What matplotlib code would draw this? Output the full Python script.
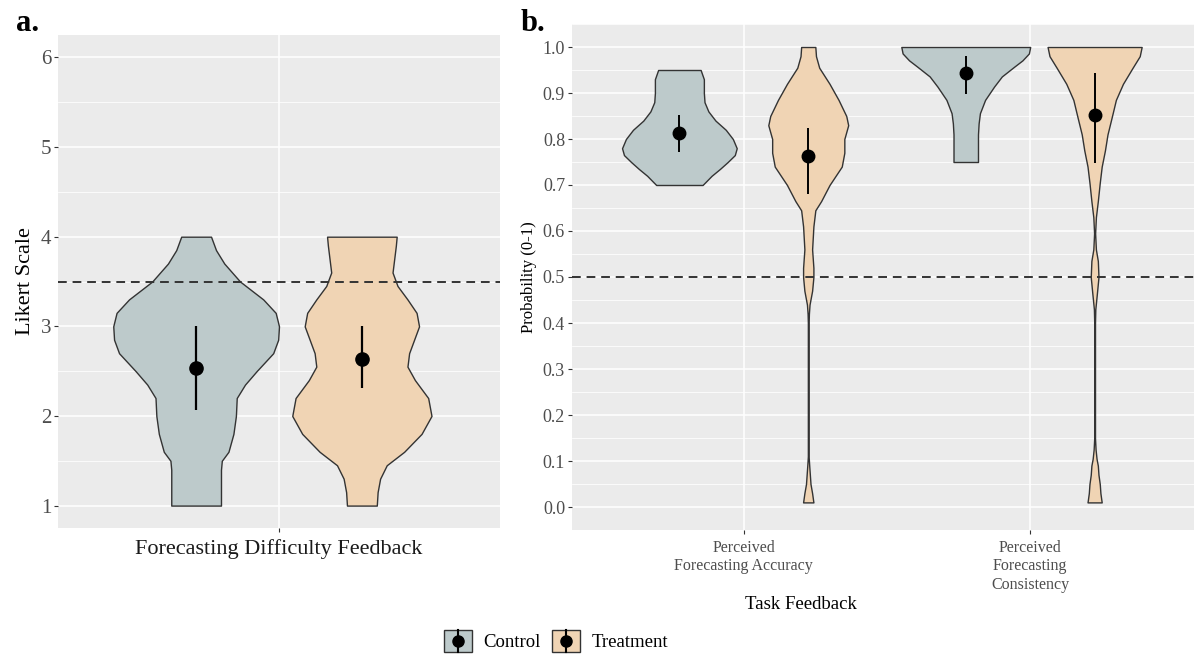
import numpy as np
import matplotlib
matplotlib.use("Agg")
import matplotlib.pyplot as plt
from matplotlib.patches import Patch, Rectangle
from matplotlib.lines import Line2D
from matplotlib.legend_handler import HandlerBase
from matplotlib.ticker import MultipleLocator, FormatStrFormatter

plt.rcParams['font.family'] = ['Liberation Serif', 'DejaVu Serif']

# ---- data ----
groups = ["Control", "Treatment"]
colors = {"Control": "#BDCACB", "Treatment": "#F0D4B4"}

# panel a: Likert responses (density profiles, relative to widest violin)
a_category = "Forecasting Difficulty Feedback"
a_ctrl_y = [1.0, 1.2, 1.4, 1.5, 1.6, 1.8, 2.0, 2.2, 2.35, 2.5, 2.7, 2.85, 3.0, 3.15, 3.3, 3.5, 3.7, 3.85, 4.0]
a_ctrl_d = [0.30, 0.30, 0.30, 0.31, 0.39, 0.45, 0.48, 0.49, 0.59, 0.73, 0.93, 0.99, 1.00, 0.96, 0.81, 0.53, 0.34, 0.24, 0.18]
a_trt_y = [1.0, 1.15, 1.3, 1.45, 1.6, 1.8, 2.0, 2.2, 2.4, 2.55, 2.7, 2.85, 3.0, 3.15, 3.3, 3.45, 3.6, 3.75, 3.9, 4.0]
a_trt_d = [0.18, 0.19, 0.22, 0.30, 0.51, 0.72, 0.84, 0.80, 0.64, 0.55, 0.57, 0.63, 0.69, 0.66, 0.55, 0.43, 0.37, 0.39, 0.41, 0.42]
a_mean = [2.53, 2.64]
a_lo = [2.07, 2.31]
a_hi = [3.00, 3.00]
a_ref = 3.5

# panel b: probabilities
b_categories = ["Perceived\nForecasting Accuracy", "Perceived\nForecasting\nConsistency"]
acc_ctrl_y = [0.70, 0.72, 0.735, 0.75, 0.765, 0.78, 0.80, 0.82, 0.84, 0.86, 0.88, 0.90, 0.93, 0.95]
acc_ctrl_d = [0.36, 0.50, 0.63, 0.75, 0.86, 0.89, 0.83, 0.72, 0.56, 0.45, 0.39, 0.38, 0.38, 0.33]
acc_trt_y = [0.01, 0.03, 0.05, 0.07, 0.09, 0.11, 0.40, 0.42, 0.44, 0.47, 0.50, 0.52, 0.56, 0.61,
             0.645, 0.665, 0.70, 0.74, 0.77, 0.80, 0.83, 0.85, 0.885, 0.92, 0.955, 0.98, 1.0]
acc_trt_d = [0.08, 0.06, 0.035, 0.025, 0.015, 0.006, 0.006, 0.01, 0.02, 0.06, 0.08, 0.08, 0.06, 0.08,
             0.11, 0.20, 0.33, 0.52, 0.56, 0.56, 0.62, 0.59, 0.47, 0.33, 0.17, 0.12, 0.11]
con_ctrl_y = [0.75, 0.78, 0.81, 0.834, 0.856, 0.885, 0.914, 0.936, 0.957, 0.971, 0.986, 1.0]
con_ctrl_d = [0.19, 0.19, 0.19, 0.20, 0.22, 0.30, 0.44, 0.56, 0.75, 0.88, 0.98, 1.0]
con_trt_y = [0.01, 0.03, 0.05, 0.07, 0.09, 0.105, 0.125, 0.15, 0.40, 0.43, 0.465, 0.50, 0.535, 0.56,
             0.595, 0.63, 0.665, 0.705, 0.74, 0.775, 0.81, 0.85, 0.885, 0.92, 0.955, 0.98, 1.0]
con_trt_d = [0.11, 0.09, 0.08, 0.06, 0.05, 0.03, 0.015, 0.006, 0.006, 0.011, 0.036, 0.06, 0.05, 0.02,
             0.008, 0.02, 0.05, 0.08, 0.11, 0.16, 0.20, 0.27, 0.33, 0.44, 0.59, 0.70, 0.73]
b_mean = [[0.812, 0.763], [0.944, 0.852]]
b_lo = [[0.772, 0.680], [0.897, 0.747]]
b_hi = [[0.852, 0.825], [0.980, 0.943]]
b_ref = 0.5

# ---- drawing ----
W, H = 1194, 659
fig = plt.figure(figsize=(W / 100, H / 100), dpi=100)
ax_a = fig.add_axes([58 / W, 1 - 528 / H, 442 / W, 493 / H])
ax_b = fig.add_axes([572 / W, 1 - 530 / H, 630 / W, 506 / H])

dodge = 0.225
halfw = 0.225
edge = "#333333"


def violin(ax, x, y, d, color):
    y = np.asarray(y)
    d = np.asarray(d) * halfw
    ax.fill_betweenx(y, x - d, x + d, facecolor=color, edgecolor=edge, lw=1.0,
                     joinstyle="round", zorder=2)


def pointrange(ax, x, m, lo, hi, ms, lw):
    ax.plot([x, x], [lo, hi], color="black", lw=lw, zorder=3, solid_capstyle="butt")
    ax.plot([x], [m], "o", color="black", ms=ms, zorder=4)


def style(ax, major, minor, fs):
    ax.set_facecolor("#EBEBEB")
    for s in ax.spines.values():
        s.set_visible(False)
    ax.yaxis.set_major_locator(MultipleLocator(major))
    ax.yaxis.set_minor_locator(MultipleLocator(minor))
    ax.grid(which="major", color="white", lw=1.1)
    ax.grid(which="minor", axis="y", color="white", lw=0.55)
    ax.set_axisbelow(True)
    ax.tick_params(which="major", length=3, width=0.8, color="#333333", labelcolor="#4D4D4D",
                   labelsize=fs, pad=2)
    ax.tick_params(which="minor", length=0)


# panel a
style(ax_a, 1, 0.5, 15)
violin(ax_a, 1 - dodge, a_ctrl_y, a_ctrl_d, colors["Control"])
violin(ax_a, 1 + dodge, a_trt_y, a_trt_d, colors["Treatment"])
for i, off in enumerate([-dodge, dodge]):
    pointrange(ax_a, 1 + off, a_mean[i], a_lo[i], a_hi[i], ms=9.5, lw=1.6)
ax_a.axhline(a_ref, color="#333333", lw=1.4, dashes=(4.5, 3), zorder=5)
ax_a.set_xlim(0.4, 1.6)
ax_a.set_ylim(0.75, 6.25)
ax_a.set_xticks([1])
ax_a.set_xticklabels([a_category], fontsize=16, color="#1A1A1A")
ax_a.tick_params(axis="x", pad=5)
ax_a.set_ylabel("Likert Scale", fontsize=16, labelpad=4)

# panel b
style(ax_b, 0.1, 0.05, 13)
ax_b.yaxis.set_major_formatter(FormatStrFormatter("%.1f"))
b_shapes = [[(acc_ctrl_y, acc_ctrl_d), (acc_trt_y, acc_trt_d)],
            [(con_ctrl_y, con_ctrl_d), (con_trt_y, con_trt_d)]]
for c in range(2):
    for g, off in enumerate([-dodge, dodge]):
        yy, dd = b_shapes[c][g]
        violin(ax_b, c + 1 + off, yy, dd, colors[groups[g]])
        pointrange(ax_b, c + 1 + off, b_mean[c][g], b_lo[c][g], b_hi[c][g], ms=9, lw=1.4)
ax_b.axhline(b_ref, color="#333333", lw=1.4, dashes=(4.5, 3), zorder=5)
ax_b.set_xlim(0.4, 2.6)
ax_b.set_ylim(-0.05, 1.05)
ax_b.set_xticks([1, 2])
ax_b.set_xticklabels(b_categories, fontsize=11.5, linespacing=1.2)
ax_b.tick_params(axis="x", pad=4)
ax_b.set_ylabel("Probability (0-1)", fontsize=12, labelpad=4)
ax_b.set_xlabel("Task Feedback", fontsize=13.5, labelpad=1)
ax_b.xaxis.set_label_coords((801 - 572) / 630, -0.13)

fig.text(16 / W, 1 - 31 / H, "a.", fontsize=22, fontweight="bold")
fig.text(521 / W, 1 - 31 / H, "b.", fontsize=22, fontweight="bold")


class PointRangeKey(HandlerBase):
    def create_artists(self, legend, orig_handle, xdescent, ydescent, width, height, fontsize, trans):
        x0, y0 = -xdescent, -ydescent
        box = Rectangle((x0, y0), width, height, facecolor=orig_handle.get_facecolor(),
                        edgecolor="#333333", lw=1.0, transform=trans)
        cx = x0 + width / 2
        stem = Line2D([cx, cx], [y0, y0 + height], color="black", lw=1.5, transform=trans)
        dot = Line2D([cx], [y0 + height / 2], marker="o", ms=8, color="black", transform=trans)
        return [box, stem, dot]


handles = [Patch(facecolor=colors[g]) for g in groups]
fig.legend(handles, groups, handler_map={Patch: PointRangeKey()}, loc="center",
           bbox_to_anchor=(556 / W, 1 - 641 / H), ncol=2, frameon=False, fontsize=13.5,
           handlelength=1.5, handleheight=1.5, handletextpad=0.6, columnspacing=0.6)

fig.savefig("out.png", dpi=100)
